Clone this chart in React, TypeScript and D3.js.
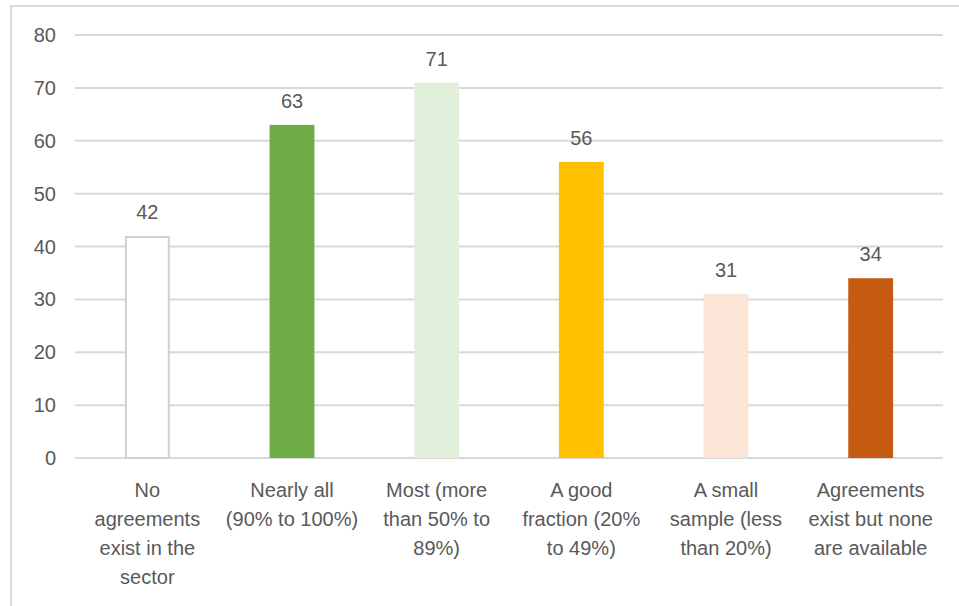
import React from "react";
import * as d3 from "d3";

const categories: string[][] = [
  ["No", "agreements", "exist in the", "sector"],
  ["Nearly all", "(90% to 100%)"],
  ["Most (more", "than 50% to", "89%)"],
  ["A good", "fraction (20%", "to 49%)"],
  ["A small", "sample (less", "than 20%)"],
  ["Agreements", "exist but none", "are available"],
];
const values: number[] = [42, 63, 71, 56, 31, 34];
const barColors: string[] = ["#ffffff", "#70ad47", "#e2efda", "#ffc000", "#fbe5d6", "#c55a11"];
const barStrokes: string[] = ["#d0d0d0", "none", "none", "none", "none", "none"];
const yTicks: number[] = [0, 10, 20, 30, 40, 50, 60, 70, 80];

const W = 959;
const H = 606;
const plot = { left: 75, right: 943, top: 35, bottom: 458 };
const FONT = "'Liberation Sans', Arial, sans-serif";
const TEXT = "#595959";

export default function App() {
  const x = d3
    .scaleBand<number>()
    .domain(d3.range(values.length))
    .range([plot.left, plot.right])
    .paddingInner(0.69)
    .paddingOuter(0.345);
  const y = d3.scaleLinear().domain([0, 80]).range([plot.bottom, plot.top]);

  return (
    <svg
      width={W}
      height={H}
      style={{ position: "absolute", left: 0, top: 0, background: "#fff" }}
      fontFamily={FONT}
    >
      {/* chart frame */}
      <rect x={11} y={6} width={W + 20} height={H + 20} fill="#fff" stroke="#d9d9d9" strokeWidth={2} />

      {/* gridlines and y tick labels */}
      {yTicks.map((t) => (
        <g key={t}>
          <line x1={plot.left} x2={plot.right} y1={y(t)} y2={y(t)} stroke="#d9d9d9" strokeWidth={2} />
          <text x={56} y={y(t)} dy="0.35em" textAnchor="end" fontSize={20} fill={TEXT}>
            {t}
          </text>
        </g>
      ))}

      {/* bars */}
      {values.map((v, i) => {
        const bx = x(i)!;
        const bw = x.bandwidth();
        const sw = barStrokes[i] === "none" ? 0 : 2;
        return (
          <g key={i}>
            <rect
              x={bx + sw / 2}
              y={y(v) + sw / 2}
              width={bw - sw}
              height={y(0) - y(v) - sw / 2}
              fill={barColors[i]}
              stroke={barStrokes[i]}
              strokeWidth={sw}
            />
            <text x={bx + bw / 2} y={y(v) - 17} textAnchor="middle" fontSize={20} fill={TEXT}>
              {v}
            </text>
          </g>
        );
      })}

      {/* category labels */}
      {categories.map((lines, i) => (
        <text key={i} textAnchor="middle" fontSize={20} fill={TEXT}>
          {lines.map((ln, j) => (
            <tspan key={j} x={x(i)! + x.bandwidth() / 2} y={plot.bottom + 39 + j * 29}>
              {ln}
            </tspan>
          ))}
        </text>
      ))}
    </svg>
  );
}
